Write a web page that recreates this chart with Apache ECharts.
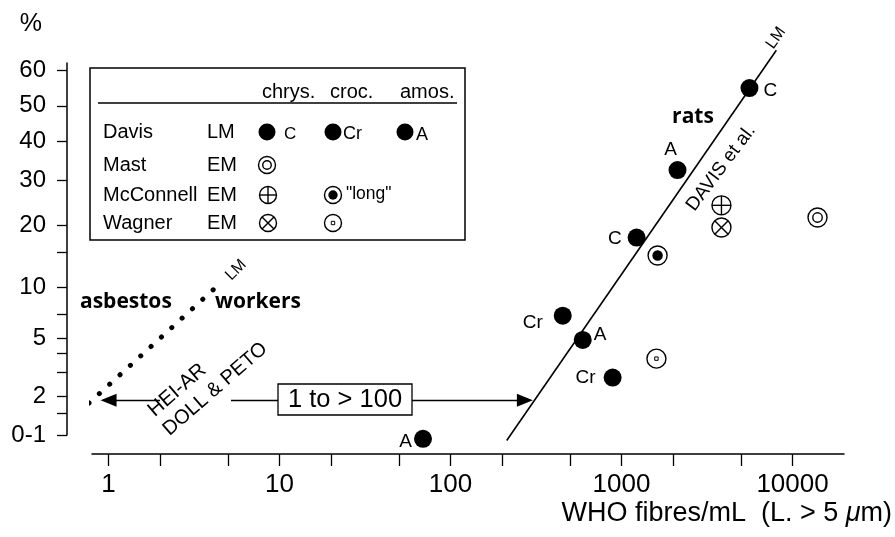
<!DOCTYPE html>
<html><head><meta charset="utf-8">
<script src="https://cdn.jsdelivr.net/npm/echarts@6/dist/echarts.min.js"></script>
<style>html,body{margin:0;padding:0;background:#fff}#c{width:895px;height:537px}</style>
</head><body><div id="c"></div>
<script>
// ---------------- data ----------------
const davisX   = [5600, 2125, 1225, 453, 593, 887, 69];
const davisPct = [55, 32.5, 17.6, 6.9, 4.9, 2.74, 0.93];
const davisType = ['C', 'A', 'C', 'Cr', 'A', 'Cr', 'A'];
const mastX = [14000];            const mastPct = [21.5];
const mcconnellChrysX = [3840];   const mcconnellChrysPct = [24.1];
const mcconnellLongX = [1625];    const mcconnellLongPct = [14.5];
const wagnerChrysX = [3840];      const wagnerChrysPct = [19.5];
const wagnerCrocX = [1600];       const wagnerCrocPct = [3.7];
const davisLineX = [213, 8040];   const davisLinePct = [0.9, 65.3];
const workersLineX = [0.668, 4.1]; const workersLinePct = [1.51, 9.7];
const rangeArrowPct = 1.87;
const rangeLeftX = [2.0, 1.0];
const rangeRightX = [5.2, 272];
const xTickValues = [1, 2, 5, 10, 20, 50, 100, 200, 500, 1000, 2000, 5000, 10000];
const xLabelValues = [1, 10, 100, 1000, 10000];
const xMin = 0.8, xMax = 20000;
const yTickPct = [60, 50, 40, 30, 20, 15, 10, 7, 5, 4, 3, 2, 1.5, 1];
const yLabelPct = [60, 50, 40, 30, 20, 10, 5, 2, 1];
const yLabelText = ['60', '50', '40', '30', '20', '10', '5', '2', '0-1'];
const yMinPct = 1, yMaxPct = 61.9;

// ------------- probit scale -------------
function probit(pct) {
  const p = pct / 100;
  const a=[-3.969683028665376e+01,2.209460984245205e+02,-2.759285104469687e+02,1.383577518672690e+02,-3.066479806614716e+01,2.506628277459239e+00];
  const b=[-5.447609879822406e+01,1.615858368580409e+02,-1.556989798598866e+02,6.680131188771972e+01,-1.328068155288572e+01];
  const c=[-7.784894002430293e-03,-3.223964580411365e-01,-2.400758277161838e+00,-2.549732539343734e+00,4.374664141464968e+00,2.938163982698783e+00];
  const d=[7.784695709041462e-03,3.224671290700398e-01,2.445134137142996e+00,3.754408661907416e+00];
  const pl = 0.02425, ph = 1 - pl;
  let q, r;
  if (p < pl) { q = Math.sqrt(-2*Math.log(p)); return (((((c[0]*q+c[1])*q+c[2])*q+c[3])*q+c[4])*q+c[5])/((((d[0]*q+d[1])*q+d[2])*q+d[3])*q+1); }
  if (p > ph) { q = Math.sqrt(-2*Math.log(1-p)); return -(((((c[0]*q+c[1])*q+c[2])*q+c[3])*q+c[4])*q+c[5])/((((d[0]*q+d[1])*q+d[2])*q+d[3])*q+1); }
  q = p - 0.5; r = q*q;
  return (((((a[0]*r+a[1])*r+a[2])*r+a[3])*r+a[4])*r+a[5])*q/(((((b[0]*r+b[1])*r+b[2])*r+b[3])*r+b[4])*r+1);
}
const pairs = (xs, ps) => xs.map((x, i) => [x, probit(ps[i])]);

const FONT = '"Liberation Sans", Arial, sans-serif';
const BOLD = '"Open Sans", "Liberation Sans", sans-serif';

// glyph builder used by both chart marks and legend table
function glyph(kind, cx, cy, R) {
  const lw = 1.4;
  const st = {stroke: '#000', fill: 'none', lineWidth: lw};
  const ring = r => ({type: 'circle', shape: {cx, cy, r}, style: st});
  const line = (x1, y1, x2, y2) => ({type: 'line', shape: {x1, y1, x2, y2}, style: {stroke: '#000', lineWidth: lw}});
  const k = R * Math.SQRT1_2;
  switch (kind) {
    case 'dot':   return [{type: 'circle', shape: {cx, cy, r: R}, style: {fill: '#000'}}];
    case 'mast':  return [ring(R), ring(R * 0.5)];
    case 'plus':  return [ring(R), line(cx - R, cy, cx + R, cy), line(cx, cy - R, cx, cy + R)];
    case 'cross': return [ring(R), line(cx - k, cy - k, cx + k, cy + k), line(cx - k, cy + k, cx + k, cy - k)];
    case 'long':  return [ring(R), {type: 'circle', shape: {cx, cy, r: R * 0.55}, style: {fill: '#000'}}];
    case 'pt':    return [ring(R), {type: 'rect', shape: {x: cx - 1.7, y: cy - 1.7, width: 3.4, height: 3.4}, style: {fill: 'none', stroke: '#000', lineWidth: 1}}];
  }
}
function glyphSeries(name, kind, xs, ps) {
  return {
    name, type: 'custom', clip: false, z: 5,
    data: pairs(xs, ps),
    renderItem: (params, api) => {
      const pt = api.coord([api.value(0), api.value(1)]);
      return {type: 'group', children: glyph(kind, pt[0], pt[1], 9.5)};
    }
  };
}

const davisLabelPos = ['right', 'top', 'left', 'left', 'right', 'left', 'left'];
const davisLabelOff = [[2, 3], [-7, 1], [-3, 1], [-8, 7], [-1, -5], [-5, 0], [1, 3]];

// legend table graphic
const txt = (text, x, y, size) => ({type: 'text', x, y, z: 2, style: {text, fontSize: size, fontFamily: FONT, fill: '#000', align: 'left', verticalAlign: 'middle'}});
const legend = [
  {type: 'rect', shape: {x: 90, y: 68, width: 375, height: 172}, style: {fill: 'none', stroke: '#000', lineWidth: 1.5}, z: 1},
  txt('chrys.', 262, 92, 20), txt('croc.', 330, 92, 20), txt('amos.', 400, 92, 20),
  {type: 'line', shape: {x1: 98, y1: 103, x2: 457, y2: 103}, style: {stroke: '#000', lineWidth: 1.5}, z: 2},
  txt('Davis', 103, 132, 20), txt('LM', 207, 132, 20),
  txt('Mast', 103, 165, 20), txt('EM', 207, 165, 20),
  txt('McConnell', 103, 195, 20), txt('EM', 207, 195, 20),
  txt('Wagner', 103, 223, 20), txt('EM', 207, 223, 20),
  txt('C', 284, 134, 17), txt('Cr', 343, 134, 18), txt('A', 416, 135, 18),
  txt('"long"', 346, 194, 17.5)
];
const legendGlyphs = [['dot', 267, 132], ['dot', 333, 132], ['dot', 405, 132], ['mast', 267, 165], ['plus', 268, 195], ['long', 333, 195], ['cross', 268, 223], ['pt', 333, 223]];
legendGlyphs.forEach(g => glyph(g[0], g[1], g[2], 8.5).forEach(e => { e.z = 2; legend.push(e); }));

const DEG = Math.PI / 180;
const notes = [
  {type: 'text', x: 693, y: 117, style: {text: 'rats', fontSize: 21, fontWeight: 'bold', fontFamily: BOLD, fill: '#000', align: 'center', verticalAlign: 'middle'}},
  {type: 'text', x: 721, y: 168, rotation: 53 * DEG, style: {text: 'DAVIS et al.', fontSize: 19, fontFamily: FONT, fill: '#000', align: 'center', verticalAlign: 'middle'}},
  {type: 'text', x: 776, y: 38, rotation: 55 * DEG, style: {text: 'LM', fontSize: 16, fontFamily: FONT, fill: '#000', align: 'center', verticalAlign: 'middle'}},
  {type: 'text', x: 80, y: 302, style: {text: 'asbestos', fontSize: 21, fontWeight: 'bold', fontFamily: BOLD, fill: '#000', align: 'left', verticalAlign: 'middle'}},
  {type: 'text', x: 215, y: 302, style: {text: 'workers', fontSize: 21, fontWeight: 'bold', fontFamily: BOLD, fill: '#000', align: 'left', verticalAlign: 'middle'}},
  {type: 'text', x: 236, y: 270, rotation: 45 * DEG, style: {text: 'LM', fontSize: 16, fontFamily: FONT, fill: '#000', align: 'center', verticalAlign: 'middle'}},
  {type: 'text', x: 151, y: 413, rotation: 41 * DEG, style: {text: 'HEI-AR', fontSize: 20.5, fontFamily: FONT, fill: '#000', align: 'left', verticalAlign: 'middle'}},
  {type: 'text', x: 166, y: 432, rotation: 41 * DEG, style: {text: 'DOLL & PETO', fontSize: 20, fontFamily: FONT, fill: '#000', align: 'left', verticalAlign: 'middle'}},
  {type: 'rect', shape: {x: 278, y: 384, width: 134, height: 31}, style: {fill: '#fff', stroke: '#000', lineWidth: 1.3}, z: 10},
  {type: 'text', x: 345, y: 400, z: 11, style: {text: '1 to > 100', fontSize: 25.5, fontFamily: FONT, fill: '#000', align: 'center', verticalAlign: 'middle'}}
];

const chart = echarts.init(document.getElementById('c'), null, {renderer: 'canvas'});
chart.setOption({
  animation: false,
  backgroundColor: '#fff',
  textStyle: {fontFamily: FONT},
  grid: {left: 92, right: 50, top: 63, bottom: 102},
  xAxis: {
    type: 'log', logBase: 10, min: xMin, max: xMax, offset: 19,
    axisLine: {onZero: false, lineStyle: {color: '#000', width: 1.5}},
    axisTick: {show: true, inside: false, length: 12, lineStyle: {color: '#000', width: 1.3}, customValues: xTickValues},
    axisLabel: {color: '#000', fontSize: 26, margin: 18, fontFamily: FONT, customValues: xLabelValues, formatter: v => String(Math.round(v))},
    minorTick: {show: false}, splitLine: {show: false},
    name: 'WHO fibres/mL  (L. > 5 {i|μ}m)',
    nameLocation: 'end', nameGap: 48,
    nameTextStyle: {color: '#000', fontSize: 27, fontFamily: FONT, align: 'right', verticalAlign: 'top', padding: [46, 0, 0, 0],
      rich: {i: {fontStyle: 'italic', fontSize: 27, fontFamily: FONT, color: '#000'}}}
  },
  yAxis: {
    type: 'value', min: probit(yMinPct), max: probit(yMaxPct), offset: 25,
    axisLine: {show: true, onZero: false, lineStyle: {color: '#000', width: 1.5}},
    axisTick: {show: true, inside: false, length: 10, lineStyle: {color: '#000', width: 1.3}, customValues: yTickPct.map(probit)},
    axisLabel: {color: '#000', fontSize: 24, margin: 21, fontFamily: FONT, customValues: yLabelPct.map(probit),
      formatter: v => { let best = 0, bd = 1e9; yLabelPct.forEach((p, i) => { const dd = Math.abs(probit(p) - v); if (dd < bd) { bd = dd; best = i; } }); return yLabelText[best]; }},
    splitLine: {show: false},
    name: '%', nameLocation: 'end', nameGap: 26,
    nameTextStyle: {color: '#000', fontSize: 25, fontFamily: FONT, align: 'right', padding: [0, 25, 0, 0]}
  },
  graphic: {elements: legend.concat(notes)},
  series: [
    {name: 'Davis et al. line', type: 'line', clip: false, data: pairs(davisLineX, davisLinePct), symbol: 'none', lineStyle: {color: '#000', width: 1.6}, z: 3},
    {name: 'asbestos workers', type: 'line', clip: false, data: pairs(workersLineX, workersLinePct), symbol: 'none',
      lineStyle: {color: '#000', width: 5, type: [0.1, 13.9], cap: 'round'}, z: 3},
    {name: 'range', type: 'line', data: [], markLine: {silent: true, symbol: ['none', 'triangle'], symbolSize: [13, 16],
      lineStyle: {color: '#000', width: 1.3, type: 'solid'}, label: {show: false},
      data: [
        [{coord: [rangeLeftX[0], probit(rangeArrowPct)]}, {coord: [rangeLeftX[1], probit(rangeArrowPct)]}],
        [{coord: [rangeRightX[0], probit(rangeArrowPct)]}, {coord: [rangeRightX[1], probit(rangeArrowPct)]}]
      ]}},
    {name: 'Davis LM', type: 'scatter', clip: false, symbol: 'circle', symbolSize: 18, itemStyle: {color: '#000', opacity: 1}, z: 6,
      data: pairs(davisX, davisPct).map((v, i) => ({value: v, label: {position: davisLabelPos[i], offset: davisLabelOff[i]}})),
      label: {show: true, color: '#000', opacity: 1, fontSize: 19, fontFamily: FONT, distance: 3, formatter: p => davisType[p.dataIndex]}},
    glyphSeries('Mast EM', 'mast', mastX, mastPct),
    glyphSeries('McConnell EM chrys.', 'plus', mcconnellChrysX, mcconnellChrysPct),
    glyphSeries('McConnell EM long croc.', 'long', mcconnellLongX, mcconnellLongPct),
    glyphSeries('Wagner EM chrys.', 'cross', wagnerChrysX, wagnerChrysPct),
    glyphSeries('Wagner EM croc.', 'pt', wagnerCrocX, wagnerCrocPct)
  ]
});
</script></body></html>
